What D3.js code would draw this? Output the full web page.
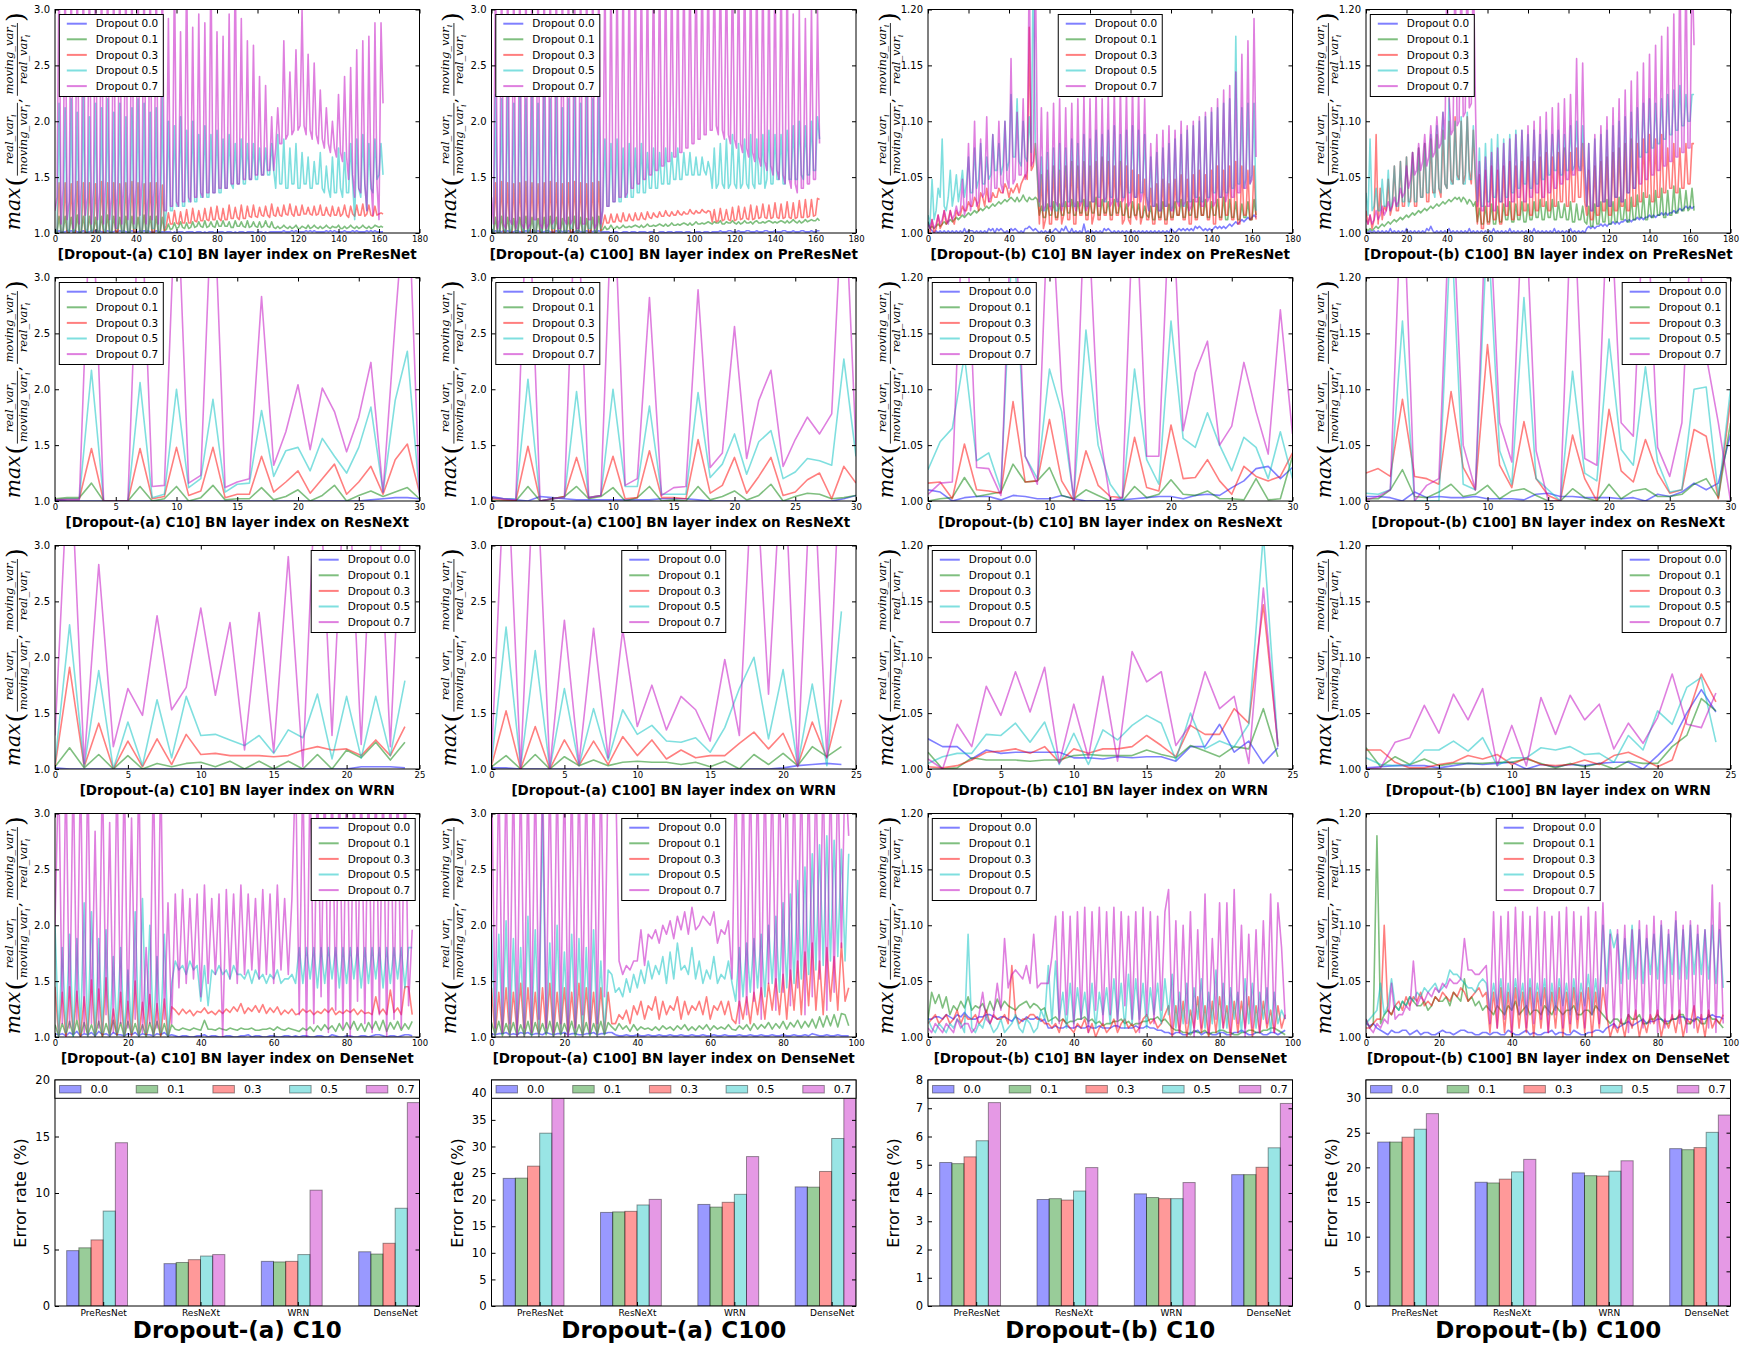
<!DOCTYPE html>
<html><head><meta charset="utf-8">
<script src="https://cdn.jsdelivr.net/npm/d3@7"></script>
<style>body{margin:0;background:#fff}</style>
</head><body><svg id="c" width="1744" height="1349"></svg>
<script>
// ---------------- DATA ----------------
const SERIES_LABELS = ["Dropout 0.0","Dropout 0.1","Dropout 0.3","Dropout 0.5","Dropout 0.7"];
const BAR_LABELS = ["0.0","0.1","0.3","0.5","0.7"];
const NETS = ["PreResNet","ResNeXt","WRN","DenseNet"];
const SETTINGS = ["Dropout-(a) C10","Dropout-(a) C100","Dropout-(b) C10","Dropout-(b) C100"];
const XTICKS_PRE = [0,20,40,60,80,100,120,140,160,180];
const XTICKS_RX = [0,5,10,15,20,25,30];
const XTICKS_WRN = [0,5,10,15,20,25];
const XTICKS_DN = [0,20,40,60,80,100];
const YTICKS_A = [1.0,1.5,2.0,2.5,3.0];
const YTICKS_B = [1.00,1.05,1.10,1.15,1.20];
const BAR_YTICKS = [[0,5,10,15,20],[0,5,10,15,20,25,30,35,40],[0,1,2,3,4,5,6,7,8],[0,5,10,15,20,25,30]];
const BAR_YMAX = [20, 42.5, 8, 32.6];

// error rates [net][dropout]
const errA10  = [[4.9,5.15,5.85,8.4,14.45],[3.75,3.85,4.1,4.42,4.55],[3.95,3.9,3.95,4.55,10.25],[4.8,4.6,5.55,8.65,18.0]];
const errA100 = [[24.0,24.05,26.3,32.5,41.0],[17.6,17.7,17.8,19.0,20.05],[19.1,18.6,19.5,21.0,28.1],[22.4,22.35,25.3,31.5,41.0]];
const errB10  = [[5.08,5.04,5.28,5.85,7.2],[3.77,3.8,3.75,4.07,4.9],[3.97,3.84,3.8,3.8,4.37],[4.65,4.65,4.91,5.6,7.17]];
const errB100 = [[23.65,23.65,24.35,25.5,27.75],[17.85,17.75,18.3,19.35,21.15],[19.2,18.8,18.75,19.45,20.95],[22.7,22.55,22.85,25.05,27.55]];

// Dense series are read values written as level codes: value = 1 + index(char) * step
// af: 0.01, ac: 0.04, bf: 0.002, bc: 0.004
const preA10 = [
 ["af","3 121 112 121 211 121 112 121 211 121 112 121 211 121 112 121 211 121 111 111 010 111 011 110 111 010 111 011 110 111 010 111 011 110 111 010 111 111 121 112 121 111 212 121 111 121 212 111 121 112 121 111 212 121 111"],
 ["af","1 0f0 1f0 0e1 0g0 1f0 0f1 0e0 1f0 0g0 0f1 1e0 0f0 1f0 0e1 0g0 1f0 0f1 1e2 383 494 5a5 494 5a5 6a6 5b5 6a6 5b6 6b6 6a5 5b6 6a6 5b5 6a6 5a5 6b6 5a5 464 575 464 574 465 474 575 464 575 465 574 464 575 464 575 464 576 565"],
 ["af","2 0J0 1J1 0I0 0K1 1J0 0J0 0I1 1K0 0J0 0J1 1I0 0J0 1K0 0J1 0I0 1J0 0J1 0H2 7i8 8k9 8j9 9l9 9mb akb bmc bnc cod bmc cpd dne cpd dof epf eng fog eqg fng fph gqh fog gph hnh gog hpg gnh fog gnf hpg eoh fpg gqf hpg fog hih"],
 ["ac","1 0t0 0s1 0u0 1r0 0v1 0q0 1t0 0s1 0u0 0r1 1t0 0q0 0s1 1u0 0t0 0r1 1s0 0v1 5p5 5o6 6q6 6n7 7p7 7m8 8o8 8m9 9n9 9la amb akb blb bkc ckc cjd djd dke amb bla ajb bka aib bha agb bia 9fa 8h9 9ja 8i9 9kb 3la 8mb 5ka 9lc dkd"],
 ["ac","5 8Z2 aZ3 7Z1 9Z2 bZ4 8Z2 aZ3 9Z2 cZ3 8Z1 aZ2 bZ3 9Z2 aZ4 cZ2 8Z3 aZ2 bZ5 5M6 6Z7 6J7 7Z8 7K8 8N9 8L9 9Z9 9Ja aIa aNb bZb bMc cHc cGd dzd dxe eqe jsk kHl mAm nFn oOo mEn lCm kwl jsk ipj hvi gzh cBd 8Fa 9Hb 5Ic 4Lb 3Lt"]
];
const preA100 = [
 ["af","2 121 212 121 112 211 121 212 121 112 211 121 212 121 112 211 121 212 121 111 101 110 011 101 110 111 101 110 011 101 110 111 101 110 011 101 110 111 121 112 211 121 112 211 121 112 211 121 112 211 121 112 211 121 122"],
 ["af","1 0e0 0f1 1e0 0d0 0e1 1f0 0e0 0d1 1e0 0f0 0e1 1d0 0e0 0f1 1e0 0d0 0e1 1f2 363 474 464 575 565 676 575 686 676 787 686 797 787 898 797 8a8 898 9a9 8a9 9b8 8a9 9b9 8a8 9b9 9a8 ab9 9a9 aba 9a9 aba 9b9 aca 9b9 aca bcb bdb"],
 ["af","1 0J0 0K1 1J0 0I0 0J1 1K0 0J0 0I1 1J0 0K0 0J1 1I0 0J0 0K1 1J0 0I0 0J1 1K2 8g9 9ha ahb aib bhc bic cid cje dif ejf fkg fjg gkh gjh hli hki ilj ikj ala bmb clc bnb coc dnd cpc dod eqe dpd ere dqd ese drd ete eue fuf gvu"],
 ["ac","1 0v0 0u1 0x0 1t0 0w1 0u0 1v0 0t1 0x0 0u1 1v0 0s0 0u1 1w0 0t0 0v1 1u0 0w1 6l6 6k7 7l7 7j8 8k8 8j9 9k9 9ia aja aib bjb bic cjc cid did dhd dhe dge aja bkb ala bmb aka blb amb alb bma cnb bmc cmb bnc coc cpd cod dpe eql"],
 ["ac","8 2Z1 3Z2 1Z3 2Z1 3Z2 1Z1 2Z3 3Z2 1Z1 2Z2 3Z1 1Z3 2Z2 3Z1 1Z2 2Z3 3Z1 2Z2 5Z6 6Z7 7Z8 8Z8 9Za aZb bZc cZd dZe eZf fZg gZh hZi iZj jZk kZl lZm mZn nZo mZn lZm kZl jZk iZj hZi gZh fZg eZf dZe cZd bZc aNb 9Oa aMb bPc cOk"]
];
const preB10 = [
 ["bf","5 210 101 010 101 010 102 011 101 010 102 120 212 101 021 210 102 232 121 010 101 012 102 131 020 101 040 101 010 102 121 010 101 010 101 010 101 010 101 010 102 101 212 121 213 232 121 212 323 232 343 454 565 676 787"],
 ["bf","5 232 343 454 565 676 787 898 9a9 aba bcb cdc ded efe fgf ege fhf egf fgf 8c7 7d8 8e7 7d8 8e9 9f8 8e9 9f8 8e9 9g8 8f9 9e8 8f9 9e8 8d7 7e8 8d7 7c8 7c6 6d7 7e6 6d7 7e8 8f7 7e8 8f7 7g8 8f7 7e8 8f7 7g6 6f7 7e6 6d7 7e6 6f8"],
 ["bc","1 030 141 252 353 254 465 576 687 598 6a7 798 8a9 9ba 8a9 ab9 bcd cKe fkd 2d1 3e2 2f3 3e2 4f3 3g2 2f4 4g3 3f2 4g3 3h4 4g3 3f4 4g2 3f3 2e4 3d2 4c3 3a2 2b3 3c2 2b3 3c4 4d3 3c2 2d3 3e4 4d3 3e2 2f3 3e4 4f3 3g2 2f4 4e3 3f3"],
 ["bc","4 2c3 5a8 l65 8e6 9d7 ae8 bh9 9ja ckb bhc dme ekd fpe gvh hug fph gqi Zkd 6h5 5i6 6j5 5k6 6j7 7l6 6k7 7m6 6l7 7n8 8m7 7n8 8o7 7m8 8n9 9o8 8n9 9m8 5h6 6i5 5j6 6k5 6l7 7m6 6n7 7o8 8p7 7q8 8r9 9s8 8t9 9ua aIb bsa ctb dt5"],
 ["bc","2 131 242 353 253 464 5c4 6k5 8p6 7l8 9q7 8ma apb 9pc aDb crd duc eZf gZk 7s5 6r6 5t7 6u5 7s6 6t7 5u6 7v5 6u7 7w6 6u7 8v6 7w8 6x7 8w6 7x8 8w7 9u8 5k6 6m5 5n6 6o5 5n7 6p6 7o5 6p7 7q6 6r7 8s6 7u8 8w7 9x8 8A9 9Ea aHb cMh"]
];
const preB100 = [
 ["bf","1 010 101 010 102 010 101 020 101 010 102 131 010 101 020 101 010 102 010 101 010 102 010 101 020 101 010 101 020 101 010 102 010 101 020 101 010 232 323 343 434 454 545 565 656 676 767 787 878 898 989 9a9 aba bcb cbc"],
 ["bf","2 121 232 343 454 565 676 787 898 9a9 aba bcb cdc ded efe fgf geg fdf ece 5b4 4c5 5d4 4c5 5d6 6e5 5d6 6e5 5d6 6e7 7f6 6e7 7f6 6e7 7d6 6e5 5d6 6c5 4c3 3d4 4e5 5f4 4e5 5g6 6f5 5g6 6h7 7i6 6h7 7j8 8k7 7j8 8l9 9ka aja bka"],
 ["bc","5 241 3m2 a36 5c4 6f5 5g6 6h7 7i6 6j8 8k7 7l9 9ma 8nb apc bqd cpb dqe bnc 2d1 1e2 2f3 3e2 2f4 4g3 3f4 4g5 5h4 4g5 5h6 6i5 5h6 6i7 7j6 6i7 7j8 8k7 4e3 3f4 4g5 5h4 4i5 5j6 6k5 5l6 6k7 7l8 8m7 7l8 8m9 9ja ak9 9ja akb bkk"],
 ["bc","9 4l5 6a5 5c6 6e5 7f6 6g7 7h6 8i7 7j8 8k9 9ma 8oa 9rb aub bpc cqb brc cod 7j6 6k7 7l8 8m7 7l8 8m9 9na anb bma anb bmc cnd dme end dme eoe fpf eof 6k5 5l6 6m7 7n6 6o8 8p7 7q9 9ra ash hti iuj jtk kul lvm mwn nxo ovp pvv"],
 ["bc","3 242 353 464 575 686 7a8 9fa cid eke gmf hoh iqj krl Zvm nZo pZq rZs tZu 6g5 5h6 6i5 5j7 7k6 6l7 7m8 8n7 7o8 8p9 9q8 8r9 9sa atb buc cvd dDe eCf 6k5 5m6 6o7 7q6 6s8 8u7 7w9 9ya aAb bCc cEd dGe eIf fKg gNh hZi iZj jZG"]
];
const dnA10 = [
 ["af","3 23 14 25 13 24 15 23 14 22 13 24 13 22 13 24 12 1 01 10 01 12 01 10 01 10 01 12 01 10 01 10 01 10 1 01 10 01 10 02 10 01 10 01 10 12 21 01 10 12 21"],
 ["af","b 1c 2e 1f 0d 2b 1e 0c 2f 1d 0e 2c 1b 0d 2e 1c 0b 7 68 76 87 6f 77 68 76 87 68 77 86 67 78 69 76 87 6 58 69 5a 6b 7a 5c 6d 7e 6c 5d 7e 6f 5d 7e 6c 7e"],
 ["af","J 1E 0J 2F 0A 1P 0H 1R 0p 2E 0w 1O 0v 2C 0u 1y 0r o kp lo jn mq ln ko lp mr nu lq ns mt lq mr ko lp k lp mo kn lp mq kn lo mp ko lm kA lp kG mq kJ Jk"],
 ["ac","p 0k 1n 0m 1u 0s 0m 1o 0i 1k 0f 1s 0v 1p 0i 1n 0c h fg eh fg 8g 7f eg ef dg ee df cf de ce df cd de c kc kd kb kc kd kb kc kd kb kc kd kb kc kd kb kk"],
 ["ac","p Z3 Z2 Z4 Z1 Z3 K2 Z5 M1 Z3 Z2 N4 Z1 k3 Z2 Z4 u3 w bx cv dw 9y cv ew 0x dw cy ew fv dx ew cy fv ev Z 5Z 0Z 3Z 9Z 1Z 6Z 2Z 0Z 8Z 3Z 1Z 5Z 0Z 4Z 2Z 7o"]
];
const dnA100 = [
 ["af","3 23 34 23 24 34 23 32 43 23 34 23 32 23 34 23 34 4 21 12 11 21 12 11 21 12 11 21 12 11 21 12 11 21 1 12 11 21 12 11 21 12 11 21 12 13 21 12 11 21 11"],
 ["af","d 2e 1c 3d 1b 2e 1d 3c 2e 1d 2c 3e 1b 2d 1c 3e 2d 9 6c 7a 5b 69 78 69 6a 79 6a 7b 69 6a 7b 6a 79 7b 7 6a 7b 6c 7b 8d 7c 8e 7d 9f 8e 9g 8i 9j ak 9l ka"],
 ["ac","b 0a 1b 0a 1c 0b 1a 0b 1c 0a 1b 0a 1c 0b 1a 0b 1a 3 35 46 37 58 47 69 48 57 69 48 57 68 59 47 68 58 4 38 49 3a 5b 4c 6d 5e 4f 6h 5j 7l 6h 5k 8i 6l 8b"],
 ["ac","p 0n 1q 0m 1k 0r 1o 0O 1l 0p 1j 0n 1m 0k 1o 0h 1f e ab 9d ae bf ch dg ei cj dl fg ek dh cf di ce dh c 8k 9l am bn 9p cr au bw cz dC eF fH gJ hI iG hF"],
 ["ac","Z 2Z 1Z 3Z 0Z 2Z 1Z 4Z 2Z 1Z 3Z 0Z 2Z 5Z 1Z 3Z 9Z Z Zh eg fh ho gn mo lp nq mr os nt op rq ps lo nq d Z3 Z5 Z8 Z4 Zc Z6 Za Z7 Zb Z5 Z9 Zd Z6 Za Zk ZJ"]
];
const dnB10 = [
 ["bf","8 89 98 a9 8a 9b 98 89 9a a9 89 98 79 87 98 89 78 4 45 44 54 45 44 54 45 44 45 54 44 45 44 54 43 32 2 12 21 12 23 12 21 12 21 12 23 21 12 21 12 21 23"],
 ["bf","8 kf jd ia ec gd ic ed fb gc hd ge dc ef gd fe cd 7 89 78 67 78 89 78 67 56 67 78 67 56 67 78 89 78 6 43 32 21 32 23 12 23 32 21 12 23 32 23 34 43 21"],
 ["bc","3 45 34 53 46 35 44 53 46 35 44 53 g5 34 45 54 43 3 23 14 32 13 24 13 02 31 24 13 42 31 24 53 42 35 7 07 18 06 29 17 08 19 27 08 18 29 07 18 26 17 25"],
 ["bc","4 21 32 13 24 31 n2 13 25 31 24 12 35 21 43 12 64 g 3h 4a 2c 3b 4a 3c 2a 5b 3d 4c 2e 3d 4c 2b 5c 3d 5 e2 a3 c1 b4 d2 a3 f1 c2 b4 a1 d3 c2 a4 b1 a3 64"],
 ["bc","2 13 21 32 14 23 31 25 a4 35 c6 mb ef ed gc nb cc c ir 3s 5r 2s 4t 1s 6t 3s 5t 2s 7r 4s 1t 5s 3r 6s x 2q 1p 3s 0o 2w 1m 4u 2u 1x 3p 0n 2o 1q 3w 1u k4"]
];
const dnB100 = [
 ["bf","6 56 43 21 32 23 31 23 12 21 12 32 21 23 32 21 12 2 12 21 13 21 12 31 21 12 23 12 21 13 21 12 23 32 4 56 45 67 56 78 67 78 87 78 89 98 87 98 89 a9 98"],
 ["bc","4 23 J3 56 57 68 79 87 78 67 98 89 7a 98 d8 97 86 7 65 76 57 68 56 75 66 57 65 76 56 67 55 66 57 65 4 34 43 35 44 53 34 45 43 34 45 53 34 43 35 44 32"],
 ["bc","2 23 44 p6 57 86 97 98 a7 87 98 a9 8a 9b a8 9a b9 a 1a 2b 1a 0b 2a 1b 0a 2b 1a 2b 0a 1b 2a 1b 0a 2b 5 03 14 05 26 04 15 36 04 25 16 04 37 15 06 24 35"],
 ["bc","3 45 6c 57 d7 68 79 8a 9b ab ca bc fe ed cb ba cd c 6c 7d 5c 6d 7c 5d 6c 7d 5c 6d 7c 5d 6c 7e 5d 6p c ok nc md pd oc me nd pc ne qd od pe ne od pc ob"],
 ["bc","4 21 32 43 c4 55 76 h7 98 a9 ba cb dc cd mf fe ef g 3s 2r 4s 1t 5s 2r 3t 4s 1r 5s 2t 3s 4r 2t 5s 3u 4 n2 o3 p1 o4 q2 p3 r1 q2 o4 s3 p1 q2 p3 o2 y1 u3"]
];

// ResNeXt (31 layers)
const rxA10 = [
 [1.01,1.0,1.0,1.0,1.0,1.0,1.0,1.0,1.0,1.0,1.0,1.0,1.0,1.0,1.0,1.0,1.0,1.0,1.0,1.0,1.0,1.0,1.0,1.0,1.0,1.0,1.01,1.02,1.03,1.03,1.02],
 [1.02,1.03,1.03,1.16,1.0,1.0,1.0,1.13,1.0,1.02,1.13,1.0,1.03,1.14,1.01,1.02,1.02,1.12,1.01,1.04,1.1,1.0,1.05,1.14,1.0,1.05,1.09,1.04,1.08,1.12,1.02],
 [1.01,1.02,1.02,1.47,1.0,1.0,1.0,1.47,1.02,1.04,1.48,1.05,1.09,1.48,1.03,1.06,1.06,1.4,1.08,1.17,1.27,1.07,1.2,1.33,1.06,1.17,1.31,1.06,1.37,1.51,1.07],
 [1.01,1.02,1.02,2.17,1.0,1.0,1.0,2.06,1.03,1.06,2.0,1.12,1.2,1.91,1.08,1.15,1.16,1.81,1.22,1.45,1.48,1.27,1.56,1.4,1.25,1.48,1.84,1.08,1.9,2.34,1.05],
 [1.01,1.01,1.01,4.0,1.0,1.0,1.0,4.0,1.13,1.14,4.0,1.16,1.23,4.0,1.12,1.17,1.2,2.83,1.32,1.62,2.04,1.46,2.01,1.8,1.44,1.75,2.24,1.08,2.6,4.0,1.05]
];
const rxA100 = [
 [1.04,1.02,1.01,1.0,1.04,1.03,1.02,1.01,1.01,1.01,1.01,1.01,1.01,1.01,1.02,1.02,1.02,1.01,1.0,1.0,1.0,1.0,1.0,1.0,1.0,1.0,1.0,1.0,1.0,1.02,1.05],
 [1.0,1.0,1.0,1.13,1.0,1.02,1.04,1.13,1.02,1.04,1.12,1.0,1.03,1.13,1.0,1.01,1.0,1.13,1.01,1.04,1.09,1.01,1.05,1.15,1.0,1.04,1.07,1.06,1.02,1.03,1.05],
 [1.02,1.01,1.0,1.49,1.0,1.02,1.04,1.39,1.03,1.05,1.4,1.02,1.03,1.45,1.03,1.03,1.02,1.55,1.07,1.14,1.39,1.07,1.22,1.39,1.05,1.08,1.19,1.25,1.02,1.31,1.16],
 [1.03,1.02,1.02,2.09,1.0,1.02,1.03,1.98,1.03,1.05,2.0,1.13,1.13,1.85,1.06,1.06,1.06,1.97,1.21,1.33,1.6,1.24,1.53,1.63,1.2,1.26,1.38,1.36,1.32,2.27,1.4],
 [1.03,1.02,1.01,4.0,1.0,1.02,1.03,4.0,1.03,1.05,4.0,1.14,1.2,2.82,1.05,1.12,1.13,2.89,1.3,1.43,2.56,1.38,1.9,2.17,1.31,1.55,1.75,1.6,1.78,4.0,1.5]
];
const rxB10 = [
 [1.01,1.008,1.0,1.003,1.004,1.004,1.001,1.005,1.004,1.002,1.002,1.005,1.002,1.0,1.0,1.0,1.001,1.002,1.003,1.004,1.004,1.002,1.005,1.006,1.005,1.012,1.018,1.029,1.031,1.02,1.03],
 [1.0,1.002,1.003,1.021,1.004,1.006,1.008,1.033,1.017,1.018,1.03,1.005,1.002,1.01,1.005,1.0,1.0,1.013,1.003,1.006,1.019,1.006,1.005,1.009,1.002,1.002,1.001,1.02,1.001,1.002,1.04],
 [1.016,1.017,1.002,1.051,1.01,1.009,1.007,1.089,1.017,1.018,1.073,1.018,1.0,1.045,1.014,1.004,1.003,1.057,1.012,1.009,1.068,1.02,1.021,1.037,1.018,1.006,1.031,1.022,1.018,1.022,1.043],
 [1.028,1.053,1.065,1.13,1.036,1.043,1.01,1.25,1.04,1.02,1.118,1.08,1.002,1.153,1.05,1.015,1.0,1.118,1.037,1.015,1.161,1.056,1.048,1.079,1.05,1.027,1.057,1.048,1.02,1.062,1.02],
 [1.006,1.016,1.017,1.3,1.03,1.029,1.005,1.3,1.04,1.015,1.3,1.1,1.0,1.3,1.07,1.0,1.003,1.3,1.04,1.04,1.3,1.063,1.115,1.143,1.05,1.067,1.124,1.08,1.042,1.171,1.06]
];
const rxB100 = [
 [1.004,1.004,1.003,1.0,1.008,1.003,1.004,1.003,1.003,1.004,1.002,1.002,1.002,1.001,1.006,1.007,1.004,1.004,1.003,1.003,1.003,1.002,1.003,1.0,1.006,1.004,1.008,1.016,1.01,1.016,1.06],
 [1.002,1.002,1.01,1.028,1.004,1.003,1.008,1.015,1.004,1.006,1.014,1.002,1.009,1.011,1.005,1.0,1.0,1.011,1.003,1.0,1.015,1.002,1.009,1.011,1.004,1.004,1.006,1.015,1.02,1.003,1.07],
 [1.025,1.029,1.022,1.091,1.022,1.02,1.015,1.098,1.03,1.01,1.14,1.032,1.012,1.071,1.02,1.005,1.0,1.059,1.02,1.0,1.082,1.027,1.017,1.055,1.025,1.007,1.01,1.064,1.058,1.002,1.09],
 [1.007,1.006,1.01,1.161,1.0,1.0,1.0,1.25,1.015,1.01,1.25,1.045,1.015,1.182,1.02,1.01,1.0,1.116,1.025,1.018,1.145,1.046,1.032,1.12,1.035,1.008,1.01,1.1,1.102,1.005,1.1],
 [1.001,1.004,1.01,1.3,1.0,1.014,1.02,1.3,1.05,1.01,1.3,1.07,1.035,1.3,1.045,1.0,1.0,1.3,1.038,1.032,1.3,1.07,1.058,1.3,1.048,1.022,1.07,1.3,1.13,1.07,1.0]
];
// WRN (25 layers)
const wrnA10 = [
 [1.01,1.0,1.0,1.0,1.0,1.0,1.0,1.0,1.0,1.0,1.0,1.0,1.0,1.0,1.0,1.0,1.0,1.0,1.0,1.0,1.0,1.02,1.02,1.02,1.01],
 [1.02,1.19,1.01,1.13,1.0,1.12,1.0,1.05,1.02,1.05,1.06,1.02,1.07,1.0,1.07,1.0,1.07,1.0,1.13,1.0,1.17,1.1,1.24,1.08,1.24],
 [1.02,1.91,1.02,1.41,1.0,1.25,1.02,1.27,1.04,1.31,1.13,1.14,1.12,1.12,1.12,1.11,1.12,1.17,1.2,1.17,1.18,1.12,1.26,1.12,1.38],
 [1.05,2.29,1.02,1.88,1.0,1.42,1.03,1.62,1.1,1.65,1.3,1.31,1.26,1.21,1.3,1.14,1.35,1.28,1.67,1.09,1.65,1.1,1.65,1.12,1.79],
 [1.3,4.0,1.05,2.83,1.2,1.72,1.48,2.37,1.53,1.73,2.44,1.66,2.31,1.17,2.4,1.15,2.9,1.02,4.0,1.3,4.0,1.22,4.0,1.2,4.0]
];
const wrnA100 = [
 [1.01,1.01,1.0,1.0,1.0,1.0,1.0,1.0,1.0,1.0,1.0,1.0,1.0,1.0,1.0,1.0,1.0,1.0,1.0,1.0,1.01,1.03,1.04,1.05,1.04],
 [1.02,1.12,1.0,1.13,1.0,1.11,1.03,1.08,1.03,1.06,1.07,1.06,1.06,1.04,1.06,1.02,1.07,1.0,1.13,1.04,1.14,1.03,1.2,1.11,1.2],
 [1.03,1.52,1.0,1.38,1.0,1.26,1.03,1.25,1.04,1.29,1.12,1.26,1.09,1.17,1.1,1.12,1.12,1.23,1.33,1.18,1.32,1.03,1.42,1.1,1.62],
 [1.05,2.27,1.02,2.06,1.0,1.72,1.03,1.54,1.08,1.53,1.31,1.39,1.25,1.24,1.28,1.15,1.37,1.72,2.0,1.27,1.89,1.03,1.76,1.03,2.41],
 [1.1,4.0,1.0,4.0,1.0,2.33,1.05,2.26,1.1,2.25,1.38,1.75,1.35,1.65,1.53,1.25,1.98,1.3,4.0,1.67,4.0,1.02,4.0,1.1,4.0]
];
const wrnB10 = [
 [1.027,1.02,1.02,1.009,1.017,1.014,1.015,1.015,1.015,1.015,1.01,1.01,1.009,1.011,1.01,1.011,1.011,1.007,1.02,1.02,1.04,1.015,1.025,1.005,1.019],
 [1.015,1.0,1.001,1.01,1.008,1.008,1.008,1.007,1.008,1.008,1.012,1.013,1.012,1.012,1.012,1.017,1.013,1.01,1.021,1.016,1.011,1.02,1.018,1.054,1.011],
 [1.002,1.001,1.003,1.008,1.015,1.016,1.018,1.014,1.02,1.006,1.018,1.014,1.018,1.018,1.02,1.03,1.021,1.011,1.039,1.031,1.031,1.054,1.041,1.147,1.022],
 [1.005,1.011,1.014,1.014,1.031,1.03,1.041,1.024,1.042,1.004,1.032,1.004,1.035,1.026,1.039,1.048,1.041,1.008,1.05,1.018,1.025,1.02,1.04,1.21,1.02],
 [1.009,1.0,1.04,1.02,1.074,1.048,1.087,1.051,1.091,1.005,1.058,1.01,1.083,1.007,1.105,1.078,1.087,1.021,1.04,1.087,1.054,1.065,1.005,1.162,1.02]
];
const wrnB100 = [
 [1.001,1.002,1.003,1.003,1.003,1.001,1.003,1.005,1.004,1.005,1.006,1.0,1.004,1.002,1.004,1.003,1.005,1.006,1.006,1.0,1.012,1.025,1.05,1.071,1.051],
 [1.019,1.002,1.011,1.004,1.009,1.003,1.005,1.005,1.005,1.006,1.006,1.009,1.005,1.001,1.005,1.002,1.005,1.0,1.007,1.005,1.005,1.02,1.03,1.063,1.052],
 [1.017,1.017,1.006,1.001,1.001,1.004,1.006,1.012,1.009,1.013,1.004,1.01,1.004,1.003,1.004,1.008,1.004,1.012,1.015,1.009,1.002,1.008,1.045,1.085,1.06],
 [1.01,1.004,1.003,1.004,1.017,1.017,1.025,1.016,1.028,1.003,1.01,1.01,1.019,1.017,1.02,1.013,1.014,1.006,1.03,1.017,1.052,1.04,1.073,1.082,1.024],
 [1.0,1.001,1.024,1.028,1.057,1.032,1.067,1.044,1.072,1.003,1.039,1.003,1.064,1.031,1.066,1.044,1.058,1.018,1.041,1.023,1.046,1.085,1.04,1.037,1.068]
];

// ---------------- LAYOUT / STYLE ----------------
const COLORS = ["#0000ff","#008000","#ff0000","#00bfbf","#bf00bf"];
const COL_X = [55, 491.5, 928, 1366];
const ROW_Y = [9.5, 277.5, 545.5, 813.5];
const PW = 364.5, PH = 223.5;
const BAR_Y = 1080, BAR_H = 226;
const FONT = "'DejaVu Sans', sans-serif";
const MFONT = "'DejaVu Serif', serif";

const ALPH = "0123456789abcdefghijklmnopqrstuvwxyzABCDEFGHIJKLMNOPQRSTUVWXYZ";
const STEP = {af: 0.01, ac: 0.04, bf: 0.002, bc: 0.004};
function values(s) {
  if (typeof s[0] === 'number') return s;
  const st = STEP[s[0]];
  return s[1].replace(/[^0-9a-zA-Z]/g, '').split('').map(ch => 1 + ALPH.indexOf(ch) * st);
}

const ROWS = [
  {net: "PreResNet", dom: [0,180], ticks: XTICKS_PRE, data: [preA10, preA100, preB10, preB100], leg: ["ul","ul","uc","ul"]},
  {net: "ResNeXt",   dom: [0,30],  ticks: XTICKS_RX,  data: [rxA10, rxA100, rxB10, rxB100],     leg: ["ul","ul","ul","ur"]},
  {net: "WRN",       dom: [0,25],  ticks: XTICKS_WRN, data: [wrnA10, wrnA100, wrnB10, wrnB100], leg: ["ur","uc","ul","ur"]},
  {net: "DenseNet",  dom: [0,100], ticks: XTICKS_DN,  data: [dnA10, dnA100, dnB10, dnB100],     leg: ["ur","uc","ul","uc"]}
];
const ERRS = [errA10, errA100, errB10, errB100];

const svg = d3.select('#c');
svg.append('rect').attr('width',1744).attr('height',1349).attr('fill','#fff');
const defs = svg.append('defs');

function styleAxis(sel, fs) {
  sel.attr('font-family', FONT).attr('font-size', fs);
  sel.select('.domain').remove();
  sel.selectAll('.tick line').attr('stroke', '#000').attr('stroke-width', 1);
  sel.selectAll('.tick text').attr('fill', '#000');
}
function frame(g, xs, ys, xt, yt, xfmt, yfmt, w, h, xfs, yfs, xpad) {
  styleAxis(g.append('g').attr('transform', `translate(0,${h})`)
    .call(d3.axisBottom(xs).tickValues(xt).tickSize(-4).tickSizeOuter(0).tickPadding(xpad).tickFormat(xfmt)), xfs);
  styleAxis(g.append('g').call(d3.axisTop(xs).tickValues(xt).tickSize(-4).tickSizeOuter(0).tickFormat('')), xfs);
  styleAxis(g.append('g').call(d3.axisLeft(ys).tickValues(yt).tickSize(-4).tickSizeOuter(0).tickPadding(5).tickFormat(yfmt)), yfs);
  styleAxis(g.append('g').attr('transform', `translate(${w},0)`)
    .call(d3.axisRight(ys).tickValues(yt).tickSize(-4).tickSizeOuter(0).tickFormat('')), yfs);
  g.append('rect').attr('width', w).attr('height', h).attr('fill', 'none').attr('stroke', '#000').attr('stroke-width', 1);
}

function fracPart(g, x, num, den) {
  const fs = 11, AX = -2;
  const mk = (parts, y) => {
    const t = g.append('text').attr('y', y).attr('font-family', MFONT).attr('font-style', 'italic').attr('font-size', fs);
    t.append('tspan').text(parts[0]);
    t.append('tspan').attr('font-size', fs * 0.7).attr('dy', 3).text(parts[1]);
    return t;
  };
  const n = mk(num, AX - 4.5), d = mk(den, AX + 9);
  const wn = n.node().getComputedTextLength(), wd = d.node().getComputedTextLength();
  const W = Math.max(wn, wd) + 3;
  n.attr('x', x + (W - wn) / 2); d.attr('x', x + (W - wd) / 2);
  g.append('line').attr('x1', x).attr('x2', x + W).attr('y1', AX).attr('y2', AX).attr('stroke', '#000').attr('stroke-width', 0.8);
  return x + W;
}
function mathLabel(parent, gx, cy, target) {
  const g = parent.append('g').attr('transform', `translate(${gx},${cy}) rotate(-90)`);
  const inner = g.append('g');
  let x = 0;
  const t = (s, fs, y, italic) => {
    const e = inner.append('text').attr('x', x).attr('y', y).attr('font-family', MFONT).attr('font-size', fs).text(s);
    if (italic) e.attr('font-style', 'italic');
    x += e.node().getComputedTextLength();
    return e;
  };
  t('max', 19.5, 0, true); x += 1;
  t('(', 24, 4, false); x += 1;
  x = fracPart(inner, x, ['real_var', 'i'], ['moving_var', 'i']);
  t(',', 15, 1, false); x += 2;
  x = fracPart(inner, x, ['moving_var', 'i'], ['real_var', 'i']);
  x += 1; t(')', 24, 4, false);
  let s = target / x; s = Math.max(0.85, Math.min(1.1, s));
  inner.attr('transform', `translate(${-x * s / 2},0) scale(${s})`);
}

function lineLegend(g, pos, w) {
  const bw = 104, bh = 82;
  const bx = pos === 'ul' ? 4.3 : pos === 'ur' ? w - 4.3 - bw : (w - bw) / 2;
  const lg = g.append('g').attr('transform', `translate(${bx},5)`);
  lg.append('rect').attr('width', bw).attr('height', bh).attr('fill', '#fff').attr('stroke', '#000').attr('stroke-width', 1);
  SERIES_LABELS.forEach((lab, i) => {
    const yy = 9.2 + i * 15.6;
    lg.append('line').attr('x1', 7.5).attr('x2', 27.5).attr('y1', yy).attr('y2', yy)
      .attr('stroke', COLORS[i]).attr('stroke-opacity', 0.5).attr('stroke-width', 2);
    lg.append('text').attr('x', 36.5).attr('y', yy).attr('dy', '0.36em')
      .attr('font-family', FONT).attr('font-size', 10.5).text(lab);
  });
}

function linePanel(r, c) {
  const row = ROWS[r];
  const isA = c < 2;
  const g = svg.append('g').attr('transform', `translate(${COL_X[c]},${ROW_Y[r]})`);
  const xs = d3.scaleLinear().domain(row.dom).range([0, PW]);
  const ys = d3.scaleLinear().domain(isA ? [1, 3] : [1, 1.2]).range([PH, 0]);
  const cid = `clip_${r}_${c}`;
  defs.append('clipPath').attr('id', cid).append('rect').attr('width', PW).attr('height', PH);
  const plot = g.append('g').attr('clip-path', `url(#${cid})`);
  const line = d3.line().x((d, i) => xs(i)).y(d => ys(d));
  row.data[c].forEach((s, k) => {
    plot.append('path').datum(values(s)).attr('d', line).attr('fill', 'none')
      .attr('stroke', COLORS[k]).attr('stroke-opacity', 0.5).attr('stroke-width', 1.6)
      .attr('stroke-linejoin', 'round');
  });
  frame(g, xs, ys, row.ticks, isA ? YTICKS_A : YTICKS_B, d3.format('d'), d3.format(isA ? '.1f' : '.2f'), PW, PH, 8.5, 10, 3.4);
  lineLegend(g, row.leg[c], PW);
  g.append('text').attr('x', PW / 2).attr('y', PH + 25.5).attr('text-anchor', 'middle')
    .attr('font-family', FONT).attr('font-weight', 'bold').attr('font-size', 13.5)
    .text(`[${SETTINGS[c]}] BN layer index on ${row.net}`);
  mathLabel(g, -35.5, PH / 2, 218);
}

function barPanel(c) {
  const g = svg.append('g').attr('transform', `translate(${COL_X[c]},${BAR_Y})`);
  const bwid = 0.125;
  const xs = d3.scaleLinear().domain([-0.12, 3.625]).range([0, PW]);
  const ys = d3.scaleLinear().domain([0, BAR_YMAX[c]]).range([BAR_H, 0]);
  const cid = `bclip_${c}`;
  defs.append('clipPath').attr('id', cid).append('rect').attr('width', PW).attr('height', BAR_H);
  const plot = g.append('g').attr('clip-path', `url(#${cid})`);
  ERRS[c].forEach((vals, i) => {
    vals.forEach((v, k) => {
      plot.append('rect').attr('x', xs(i + k * bwid)).attr('width', xs(bwid) - xs(0))
        .attr('y', ys(v)).attr('height', ys(0) - ys(v))
        .attr('fill', COLORS[k]).attr('fill-opacity', 0.4)
        .attr('stroke', '#000').attr('stroke-opacity', 0.4).attr('stroke-width', 1);
    });
  });
  const tickPos = NETS.map((n, i) => i + 3 * bwid);
  frame(g, xs, ys, tickPos, BAR_YTICKS[c], (d, i) => NETS[i], d3.format('d'), PW, BAR_H, 9, 11.5, 4);
  const lg = g.append('g');
  lg.append('rect').attr('width', PW).attr('height', 18.3).attr('fill', '#fff').attr('stroke', '#000').attr('stroke-width', 1);
  BAR_LABELS.forEach((lab, k) => {
    const px = 4.5 + k * 76.7;
    lg.append('rect').attr('x', px).attr('y', 5.5).attr('width', 21.5).attr('height', 7.5)
      .attr('fill', COLORS[k]).attr('fill-opacity', 0.4).attr('stroke', '#000').attr('stroke-opacity', 0.4);
    lg.append('text').attr('x', px + 31).attr('y', 9.3).attr('dy', '0.36em')
      .attr('font-family', FONT).attr('font-size', 11).text(lab);
  });
  g.append('text').attr('transform', `translate(-29,${BAR_H / 2}) rotate(-90)`).attr('text-anchor', 'middle')
    .attr('font-family', FONT).attr('font-size', 16).text('Error rate (%)');
  g.append('text').attr('x', PW / 2).attr('y', 258).attr('text-anchor', 'middle')
    .attr('font-family', FONT).attr('font-weight', 'bold').attr('font-size', 23).text(SETTINGS[c]);
}

for (let r = 0; r < 4; r++) for (let c = 0; c < 4; c++) linePanel(r, c);
for (let c = 0; c < 4; c++) barPanel(c);
</script></body></html>
